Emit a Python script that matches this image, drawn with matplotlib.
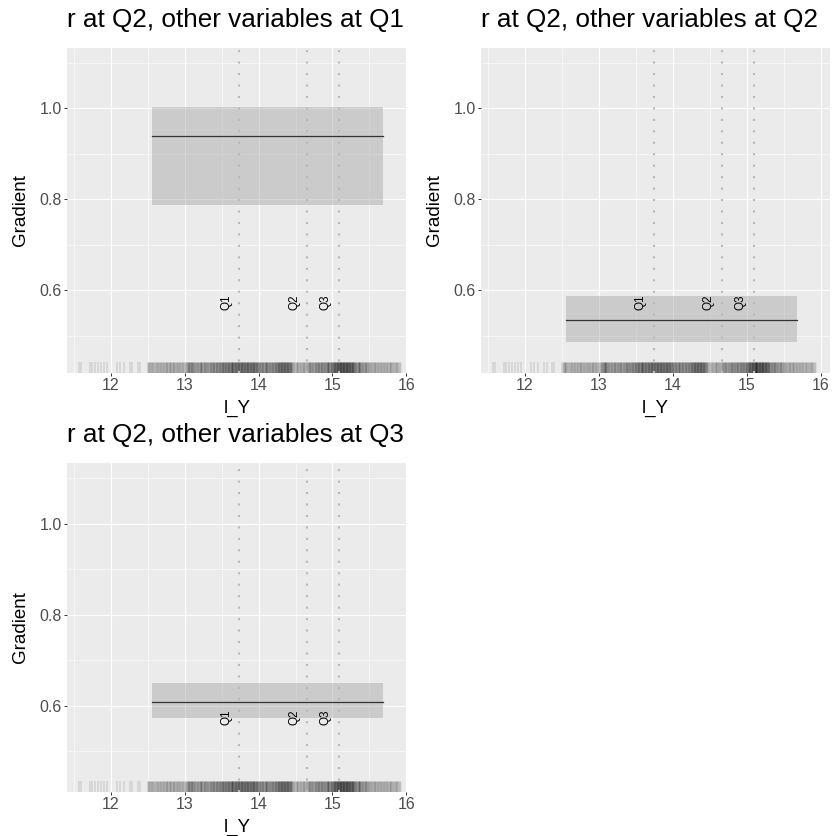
import numpy as np
import matplotlib.pyplot as plt
from matplotlib.ticker import MultipleLocator

plt.rcParams['font.family'] = ['Liberation Sans', 'DejaVu Sans']

# ---- data ----
titles = ['r at Q2, other variables at Q1',
          'r at Q2, other variables at Q2',
          'r at Q2, other variables at Q3']
band_x = [12.55, 15.68]
grad_mid = [0.940, 0.536, 0.607]
grad_lo = [0.788, 0.488, 0.573]
grad_hi = [1.002, 0.589, 0.650]
quartiles = [13.74, 14.66, 15.09]
q_labels = ['Q1', 'Q2', 'Q3']

# rug: sparse observations (one each) and dense region (value, count)
rug_sparse = [11.57, 11.60, 11.71, 11.74, 11.78, 11.82, 11.86, 11.90, 11.95,
              12.08, 12.12, 12.18, 12.26, 12.29, 12.36, 12.39]
rug_x = [12.50, 12.52, 12.54, 12.56, 12.58, 12.60, 12.62, 12.64, 12.66, 12.68,
         12.70, 12.72, 12.74, 12.76, 12.78, 12.80, 12.82, 12.84, 12.86, 12.88,
         12.90, 12.92, 12.94, 12.96, 12.98, 13.00, 13.02, 13.04, 13.06, 13.08,
         13.10, 13.12, 13.14, 13.16, 13.18, 13.20, 13.22, 13.24, 13.26, 13.28,
         13.30, 13.32, 13.34, 13.36, 13.38, 13.40, 13.42, 13.44, 13.46, 13.48,
         13.50, 13.52, 13.54, 13.56, 13.58, 13.60, 13.62, 13.64, 13.66, 13.68,
         13.70, 13.72, 13.74, 13.76, 13.78, 13.80, 13.82, 13.84, 13.86, 13.88,
         13.90, 13.92, 13.94, 13.96, 13.98, 14.00, 14.02, 14.04, 14.06, 14.08,
         14.10, 14.12, 14.14, 14.16, 14.18, 14.20, 14.22, 14.24, 14.26, 14.28,
         14.30, 14.32, 14.34, 14.36, 14.38, 14.40, 14.42, 14.44, 14.46, 14.48,
         14.50, 14.52, 14.54, 14.56, 14.58, 14.60, 14.62, 14.64, 14.66, 14.68,
         14.70, 14.72, 14.74, 14.76, 14.78, 14.80, 14.82, 14.84, 14.86, 14.88,
         14.90, 14.92, 14.94, 14.96, 14.98, 15.00, 15.02, 15.04, 15.06, 15.08,
         15.10, 15.12, 15.14, 15.16, 15.18, 15.20, 15.22, 15.24, 15.26, 15.28,
         15.30, 15.32, 15.34, 15.36, 15.38, 15.40, 15.42, 15.44, 15.46, 15.48,
         15.50, 15.52, 15.54, 15.56, 15.58, 15.60, 15.62, 15.64, 15.66, 15.68,
         15.70, 15.72, 15.74, 15.76, 15.78, 15.80, 15.82, 15.84, 15.86, 15.88,
         15.90, 15.92]
rug_n = [2, 3, 2, 3, 2, 2, 3, 2, 3, 2,
         3, 2, 3, 3, 2, 3, 2, 3, 3, 2,
         3, 3, 2, 3, 2, 2, 3, 4, 5, 4,
         5, 4, 3, 4, 3, 4, 4, 3, 4, 4,
         4, 3, 4, 4, 5, 4, 4, 5, 4, 5,
         5, 6, 5, 5, 6, 5, 6, 5, 6, 6,
         6, 7, 6, 6, 7, 6, 6, 7, 6, 6,
         6, 7, 6, 6, 5, 5, 4, 5, 4, 4,
         4, 5, 4, 4, 5, 4, 5, 5, 6, 6,
         7, 6, 7, 6, 7, 6, 6, 5, 3, 2,
         2, 3, 2, 3, 2, 3, 3, 2, 3, 4,
         4, 4, 3, 4, 4, 5, 4, 4, 5, 4,
         4, 5, 5, 4, 5, 6, 7, 7, 8, 8,
         9, 8, 9, 8, 8, 9, 8, 7, 8, 7,
         5, 4, 4, 5, 4, 4, 3, 4, 4, 3,
         3, 3, 2, 3, 3, 2, 3, 2, 3, 2,
         3, 2, 3, 2, 2, 3, 2, 2, 3, 2,
         2, 1]

W, H = 834, 836
fig = plt.figure(figsize=(W / 100, H / 100), dpi=100)

# panel boxes in pixels: left, top, right, bottom
boxes = [(67, 48, 407, 373), (481, 48, 830, 373), (67, 463, 407, 792)]
xlims = [(11.405, 16.01), (11.405, 16.12), (11.405, 16.01)]
ylims = [(0.419, 1.132), (0.419, 1.132), (0.41, 1.133)]

for i in range(3):
    l, t, r, b = boxes[i]
    ax = fig.add_axes([l / W, 1 - b / H, (r - l) / W, (b - t) / H])
    ax.set_facecolor('#EBEBEB')
    for s in ax.spines.values():
        s.set_visible(False)
    ax.set_xlim(*xlims[i])
    ax.set_ylim(*ylims[i])
    ax.xaxis.set_major_locator(MultipleLocator(1))
    ax.xaxis.set_minor_locator(MultipleLocator(0.5))
    ax.set_yticks([0.6, 0.8, 1.0])
    ax.set_yticklabels(['0.6', '0.8', '1.0'])
    ax.yaxis.set_minor_locator(MultipleLocator(0.1))
    ax.grid(which='major', color='white', lw=0.8)
    ax.grid(which='minor', color='white', lw=0.4)
    ax.set_axisbelow(True)
    ax.tick_params(which='major', length=2.2, width=0.7, color='#333333',
                   labelcolor='#4D4D4D', labelsize=11.5, pad=1.5)
    ax.tick_params(which='minor', length=0)

    # rug
    tr = ax.get_xaxis_transform()
    ax.vlines(rug_sparse, 0, 0.034, transform=tr, colors='black',
              alpha=0.09, lw=1.3)
    for x, n in zip(rug_x, rug_n):
        ax.vlines(x, 0, 0.034, transform=tr, colors='black',
                  alpha=1 - 0.92 ** n, lw=1.8)

    # quartile lines and labels
    for q, lab in zip(quartiles, q_labels):
        ax.axvline(q, color='#B8B8B8', lw=1.5, ls=(0, (1, 4.5)))
        ax.text(q - 0.18, 0.575, lab, rotation=90, ha='center', va='center',
                fontsize=8.5)

    # gradient band and line
    ax.fill_between(band_x, grad_lo[i], grad_hi[i], color='#999999',
                    alpha=0.39, lw=0)
    ax.plot(band_x, [grad_mid[i]] * 2, color='#333333', lw=0.9)

    title_y = 27 if i < 2 else 442
    fig.text(l / W, 1 - title_y / H, titles[i], fontsize=18.8, ha='left',
             va='baseline')
    fig.text((l - 46) / W, 1 - (t + b) / 2 / H, 'Gradient', fontsize=13.5,
             rotation=90, ha='center', va='center')
    fig.text((l + r) / 2 / W, 1 - (b + 40) / H, 'l_Y', fontsize=13.5,
             ha='center', va='baseline')

plt.savefig('out.png', dpi=100)
